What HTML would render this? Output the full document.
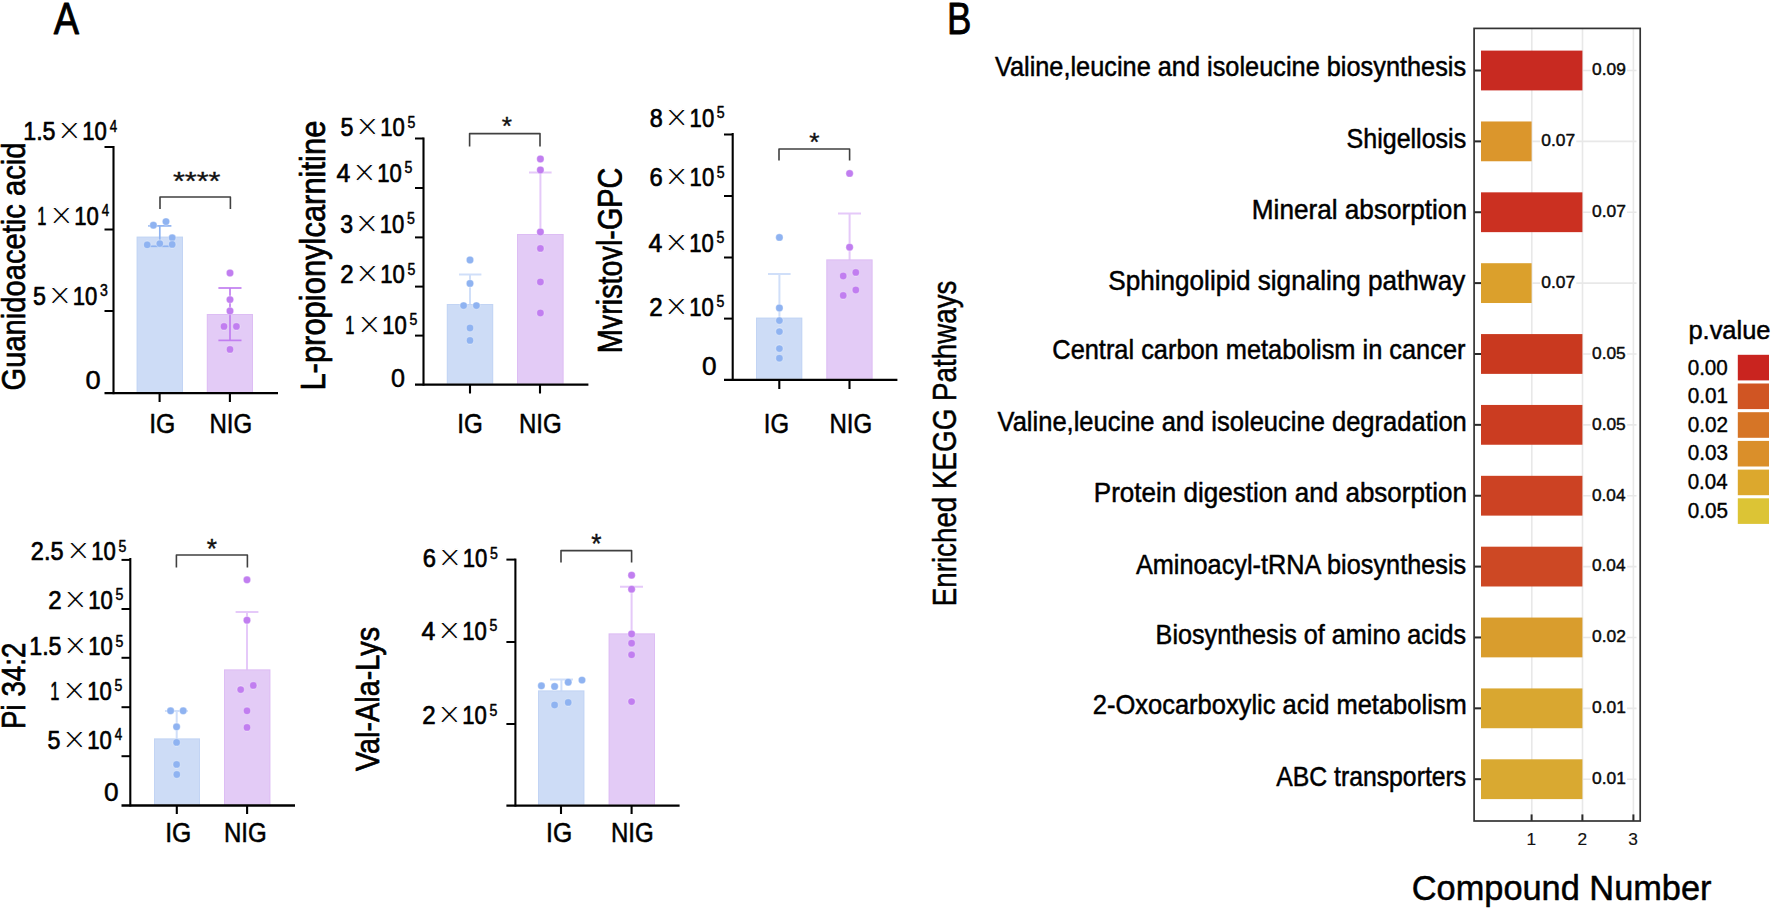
<!DOCTYPE html>
<html><head><meta charset="utf-8"><title>Figure</title>
<style>html,body{margin:0;padding:0;background:#fff}svg{display:block}</style></head>
<body>
<svg width="1772" height="910" viewBox="0 0 1772 910" font-family="'Liberation Sans', sans-serif">
<rect width="1772" height="910" fill="#fff"/>
<rect x="136.60" y="236.60" width="46.40" height="155.60" fill="#cddcf6"/>
<rect x="137.10" y="237.10" width="45.40" height="155.60" fill="none" stroke="#8fb3f1" stroke-opacity="0.18" stroke-width="1"/>
<rect x="206.80" y="314.00" width="46.20" height="78.20" fill="#e3cbf6"/>
<rect x="207.30" y="314.50" width="45.20" height="78.20" fill="none" stroke="#c17ef0" stroke-opacity="0.18" stroke-width="1"/>
<line x1="159.80" y1="225.90" x2="159.80" y2="246.30" stroke="#8fb3f1" stroke-width="1.7" stroke-linecap="butt"/>
<line x1="148.20" y1="225.90" x2="171.40" y2="225.90" stroke="#8fb3f1" stroke-width="1.7" stroke-linecap="butt"/>
<line x1="148.20" y1="246.30" x2="171.40" y2="246.30" stroke="#8fb3f1" stroke-width="1.7" stroke-linecap="butt"/>
<line x1="230.00" y1="288.00" x2="230.00" y2="340.40" stroke="#c17ef0" stroke-width="1.7" stroke-linecap="butt"/>
<line x1="218.40" y1="288.00" x2="241.50" y2="288.00" stroke="#c17ef0" stroke-width="1.7" stroke-linecap="butt"/>
<line x1="218.40" y1="340.40" x2="241.50" y2="340.40" stroke="#c17ef0" stroke-width="1.7" stroke-linecap="butt"/>
<circle cx="153.4" cy="225.2" r="3.7" fill="#8fb3f1" stroke="#fff" stroke-opacity="0.35" stroke-width="1.1"/>
<circle cx="166.0" cy="221.6" r="3.7" fill="#8fb3f1" stroke="#fff" stroke-opacity="0.35" stroke-width="1.1"/>
<circle cx="172.2" cy="237.8" r="3.7" fill="#8fb3f1" stroke="#fff" stroke-opacity="0.35" stroke-width="1.1"/>
<circle cx="147.2" cy="244.8" r="3.7" fill="#8fb3f1" stroke="#fff" stroke-opacity="0.35" stroke-width="1.1"/>
<circle cx="159.8" cy="243.6" r="3.7" fill="#8fb3f1" stroke="#fff" stroke-opacity="0.35" stroke-width="1.1"/>
<circle cx="172.2" cy="244.4" r="3.7" fill="#8fb3f1" stroke="#fff" stroke-opacity="0.35" stroke-width="1.1"/>
<circle cx="230.0" cy="273.0" r="3.7" fill="#c17ef0" stroke="#fff" stroke-opacity="0.35" stroke-width="1.1"/>
<circle cx="230.0" cy="299.6" r="3.7" fill="#c17ef0" stroke="#fff" stroke-opacity="0.35" stroke-width="1.1"/>
<circle cx="230.0" cy="311.0" r="3.7" fill="#c17ef0" stroke="#fff" stroke-opacity="0.35" stroke-width="1.1"/>
<circle cx="224.0" cy="326.4" r="3.7" fill="#c17ef0" stroke="#fff" stroke-opacity="0.35" stroke-width="1.1"/>
<circle cx="236.4" cy="326.4" r="3.7" fill="#c17ef0" stroke="#fff" stroke-opacity="0.35" stroke-width="1.1"/>
<circle cx="230.0" cy="349.4" r="3.7" fill="#c17ef0" stroke="#fff" stroke-opacity="0.35" stroke-width="1.1"/>
<line x1="113.50" y1="146.00" x2="113.50" y2="394.20" stroke="#000" stroke-width="2.1" stroke-linecap="butt"/>
<line x1="104.50" y1="393.20" x2="278.00" y2="393.20" stroke="#000" stroke-width="2.3" stroke-linecap="butt"/>
<line x1="104.50" y1="147.00" x2="113.50" y2="147.00" stroke="#000" stroke-width="2" stroke-linecap="butt"/>
<line x1="104.50" y1="229.50" x2="113.50" y2="229.50" stroke="#000" stroke-width="2" stroke-linecap="butt"/>
<line x1="104.50" y1="311.00" x2="113.50" y2="311.00" stroke="#000" stroke-width="2" stroke-linecap="butt"/>
<line x1="159.60" y1="393.20" x2="159.60" y2="402.00" stroke="#000" stroke-width="2.1" stroke-linecap="butt"/>
<line x1="229.90" y1="393.20" x2="229.90" y2="402.00" stroke="#000" stroke-width="2.1" stroke-linecap="butt"/>
<path d="M160.0,209.0 V197.0 H230.4 V209.0" fill="none" stroke="#404040" stroke-width="1.6" stroke-linejoin="round"/>
<text transform="translate(172.99,190.25) scale(1.1488,1)" font-size="26.57" fill="#111" stroke="#111" stroke-width="0.35">****</text>
<text transform="translate(82.31,140.00) scale(0.8347,1)" font-size="26.45" fill="#000" stroke="#000" stroke-width="0.7" stroke-linejoin="round" >10</text>
<text transform="translate(57.92,144.27) scale(0.9700,1)" font-size="40.00" fill="#000" stroke="#fff" stroke-width="1.13">×</text>
<text transform="translate(23.22,140.00) scale(0.8784,1)" font-size="26.45" fill="#000" stroke="#000" stroke-width="0.7" stroke-linejoin="round" >1.5</text>
<text transform="translate(109.69,131.50) scale(0.8374,1)" font-size="15.90" fill="#000" stroke="#000" stroke-width="0.5" stroke-linejoin="round" >4</text>
<text transform="translate(74.31,224.50) scale(0.8347,1)" font-size="26.45" fill="#000" stroke="#000" stroke-width="0.7" stroke-linejoin="round" >10</text>
<text transform="translate(49.92,228.77) scale(0.9700,1)" font-size="40.00" fill="#000" stroke="#fff" stroke-width="1.13">×</text>
<text transform="translate(37.19,224.50) scale(0.6200,1)" font-size="26.45" fill="#000" stroke="#000" stroke-width="0.7" stroke-linejoin="round">1</text>
<text transform="translate(101.69,216.00) scale(0.8374,1)" font-size="15.90" fill="#000" stroke="#000" stroke-width="0.5" stroke-linejoin="round" >4</text>
<text transform="translate(72.81,304.50) scale(0.8347,1)" font-size="26.45" fill="#000" stroke="#000" stroke-width="0.7" stroke-linejoin="round" >10</text>
<text transform="translate(48.42,308.76) scale(0.9700,1)" font-size="40.00" fill="#000" stroke="#fff" stroke-width="1.13">×</text>
<text transform="translate(33.07,304.50) scale(0.8788,1)" font-size="26.45" fill="#000" stroke="#000" stroke-width="0.7" stroke-linejoin="round" >5</text>
<text transform="translate(99.98,296.00) scale(0.8842,1)" font-size="15.90" fill="#000" stroke="#000" stroke-width="0.5" stroke-linejoin="round" >3</text>
<text transform="translate(85.41,388.74) scale(1.0423,1)" font-size="26.17" fill="#000" stroke="#000" stroke-width="0.5" stroke-linejoin="round" >0</text>
<text transform="translate(149.18,433.00) scale(0.9281,1)" font-size="26.73" fill="#000" stroke="#000" stroke-width="0.5" stroke-linejoin="round" >IG</text>
<text transform="translate(209.49,433.00) scale(0.9005,1)" font-size="26.73" fill="#000" stroke="#000" stroke-width="0.5" stroke-linejoin="round" >NIG</text>
<text transform="translate(25.00,390.46) rotate(-90) scale(0.8708,1)" font-size="33.48" fill="#000" stroke="#000" stroke-width="0.7" stroke-linejoin="round">Guanidoacetic acid</text>
<rect x="446.80" y="304.00" width="46.40" height="79.60" fill="#cddcf6"/>
<rect x="447.30" y="304.50" width="45.40" height="79.60" fill="none" stroke="#8fb3f1" stroke-opacity="0.18" stroke-width="1"/>
<rect x="517.00" y="234.00" width="46.60" height="149.60" fill="#e3cbf6"/>
<rect x="517.50" y="234.50" width="45.60" height="149.60" fill="none" stroke="#c17ef0" stroke-opacity="0.18" stroke-width="1"/>
<g stroke="#8fb3f1" stroke-opacity="0.42" stroke-width="2" fill="none"><path d="M470.0,274.4 V304.0 M459.0,274.4 H481.4"/></g>
<g stroke="#c17ef0" stroke-opacity="0.42" stroke-width="2" fill="none"><path d="M540.4,172.6 V234.0 M529.0,172.6 H551.6"/></g>
<circle cx="470.0" cy="260.0" r="3.7" fill="#8fb3f1" stroke="#fff" stroke-opacity="0.35" stroke-width="1.1"/>
<circle cx="470.0" cy="283.4" r="3.7" fill="#8fb3f1" stroke="#fff" stroke-opacity="0.35" stroke-width="1.1"/>
<circle cx="463.6" cy="305.6" r="3.7" fill="#8fb3f1" stroke="#fff" stroke-opacity="0.35" stroke-width="1.1"/>
<circle cx="476.4" cy="305.6" r="3.7" fill="#8fb3f1" stroke="#fff" stroke-opacity="0.35" stroke-width="1.1"/>
<circle cx="470.0" cy="328.0" r="3.7" fill="#8fb3f1" stroke="#fff" stroke-opacity="0.35" stroke-width="1.1"/>
<circle cx="470.0" cy="340.4" r="3.7" fill="#8fb3f1" stroke="#fff" stroke-opacity="0.35" stroke-width="1.1"/>
<circle cx="540.4" cy="159.0" r="3.7" fill="#c17ef0" stroke="#fff" stroke-opacity="0.35" stroke-width="1.1"/>
<circle cx="540.4" cy="170.0" r="3.7" fill="#c17ef0" stroke="#fff" stroke-opacity="0.35" stroke-width="1.1"/>
<circle cx="540.4" cy="232.0" r="3.7" fill="#c17ef0" stroke="#fff" stroke-opacity="0.35" stroke-width="1.1"/>
<circle cx="540.4" cy="248.4" r="3.7" fill="#c17ef0" stroke="#fff" stroke-opacity="0.35" stroke-width="1.1"/>
<circle cx="540.4" cy="282.0" r="3.7" fill="#c17ef0" stroke="#fff" stroke-opacity="0.35" stroke-width="1.1"/>
<circle cx="540.4" cy="313.0" r="3.7" fill="#c17ef0" stroke="#fff" stroke-opacity="0.35" stroke-width="1.1"/>
<line x1="423.50" y1="137.50" x2="423.50" y2="385.60" stroke="#000" stroke-width="2.1" stroke-linecap="butt"/>
<line x1="415.00" y1="384.60" x2="588.40" y2="384.60" stroke="#000" stroke-width="2.3" stroke-linecap="butt"/>
<line x1="415.00" y1="138.50" x2="423.50" y2="138.50" stroke="#000" stroke-width="2" stroke-linecap="butt"/>
<line x1="415.00" y1="188.00" x2="423.50" y2="188.00" stroke="#000" stroke-width="2" stroke-linecap="butt"/>
<line x1="415.00" y1="237.40" x2="423.50" y2="237.40" stroke="#000" stroke-width="2" stroke-linecap="butt"/>
<line x1="415.00" y1="286.60" x2="423.50" y2="286.60" stroke="#000" stroke-width="2" stroke-linecap="butt"/>
<line x1="415.00" y1="335.60" x2="423.50" y2="335.60" stroke="#000" stroke-width="2" stroke-linecap="butt"/>
<line x1="470.00" y1="384.60" x2="470.00" y2="393.50" stroke="#000" stroke-width="2.1" stroke-linecap="butt"/>
<line x1="540.00" y1="384.60" x2="540.00" y2="393.50" stroke="#000" stroke-width="2.1" stroke-linecap="butt"/>
<path d="M469.6,146.6 V133.6 H540.0 V146.6" fill="none" stroke="#404040" stroke-width="1.6" stroke-linejoin="round"/>
<text transform="translate(501.86,134.66) scale(1.0249,1)" font-size="25.71" fill="#111" stroke="#111" stroke-width="0.35">*</text>
<text transform="translate(380.31,136.00) scale(0.8347,1)" font-size="26.45" fill="#000" stroke="#000" stroke-width="0.7" stroke-linejoin="round" >10</text>
<text transform="translate(355.92,140.27) scale(0.9700,1)" font-size="40.00" fill="#000" stroke="#fff" stroke-width="1.13">×</text>
<text transform="translate(340.57,136.00) scale(0.8788,1)" font-size="26.45" fill="#000" stroke="#000" stroke-width="0.7" stroke-linejoin="round" >5</text>
<text transform="translate(407.43,127.50) scale(0.8905,1)" font-size="15.90" fill="#000" stroke="#000" stroke-width="0.5" stroke-linejoin="round" >5</text>
<text transform="translate(377.31,181.50) scale(0.8347,1)" font-size="26.45" fill="#000" stroke="#000" stroke-width="0.7" stroke-linejoin="round" >10</text>
<text transform="translate(352.92,185.77) scale(0.9700,1)" font-size="40.00" fill="#000" stroke="#fff" stroke-width="1.13">×</text>
<text transform="translate(336.42,181.50) scale(0.9391,1)" font-size="26.45" fill="#000" stroke="#000" stroke-width="0.7" stroke-linejoin="round" >4</text>
<text transform="translate(404.43,173.00) scale(0.8905,1)" font-size="15.90" fill="#000" stroke="#000" stroke-width="0.5" stroke-linejoin="round" >5</text>
<text transform="translate(379.81,232.50) scale(0.8347,1)" font-size="26.45" fill="#000" stroke="#000" stroke-width="0.7" stroke-linejoin="round" >10</text>
<text transform="translate(355.42,236.77) scale(0.9700,1)" font-size="40.00" fill="#000" stroke="#fff" stroke-width="1.13">×</text>
<text transform="translate(340.15,232.50) scale(0.8726,1)" font-size="26.45" fill="#000" stroke="#000" stroke-width="0.7" stroke-linejoin="round" >3</text>
<text transform="translate(406.93,224.00) scale(0.8905,1)" font-size="15.90" fill="#000" stroke="#000" stroke-width="0.5" stroke-linejoin="round" >5</text>
<text transform="translate(380.31,283.00) scale(0.8347,1)" font-size="26.45" fill="#000" stroke="#000" stroke-width="0.7" stroke-linejoin="round" >10</text>
<text transform="translate(355.92,287.26) scale(0.9700,1)" font-size="40.00" fill="#000" stroke="#fff" stroke-width="1.13">×</text>
<text transform="translate(340.30,283.00) scale(0.9109,1)" font-size="26.45" fill="#000" stroke="#000" stroke-width="0.7" stroke-linejoin="round" >2</text>
<text transform="translate(407.43,274.50) scale(0.8905,1)" font-size="15.90" fill="#000" stroke="#000" stroke-width="0.5" stroke-linejoin="round" >5</text>
<text transform="translate(382.31,333.80) scale(0.8347,1)" font-size="26.45" fill="#000" stroke="#000" stroke-width="0.7" stroke-linejoin="round" >10</text>
<text transform="translate(357.92,338.06) scale(0.9700,1)" font-size="40.00" fill="#000" stroke="#fff" stroke-width="1.13">×</text>
<text transform="translate(345.19,333.80) scale(0.6200,1)" font-size="26.45" fill="#000" stroke="#000" stroke-width="0.7" stroke-linejoin="round">1</text>
<text transform="translate(409.43,325.30) scale(0.8905,1)" font-size="15.90" fill="#000" stroke="#000" stroke-width="0.5" stroke-linejoin="round" >5</text>
<text transform="translate(390.99,387.24) scale(0.9621,1)" font-size="26.17" fill="#000" stroke="#000" stroke-width="0.5" stroke-linejoin="round" >0</text>
<text transform="translate(457.24,433.00) scale(0.9070,1)" font-size="26.73" fill="#000" stroke="#000" stroke-width="0.5" stroke-linejoin="round" >IG</text>
<text transform="translate(518.99,433.00) scale(0.9005,1)" font-size="26.73" fill="#000" stroke="#000" stroke-width="0.5" stroke-linejoin="round" >NIG</text>
<text transform="translate(325.00,390.58) rotate(-90) scale(0.9042,1)" font-size="34.21" fill="#000" stroke="#000" stroke-width="0.7" stroke-linejoin="round">L-propionylcarnitine</text>
<rect x="756.00" y="317.60" width="46.30" height="61.20" fill="#cddcf6"/>
<rect x="756.50" y="318.10" width="45.30" height="61.20" fill="none" stroke="#8fb3f1" stroke-opacity="0.18" stroke-width="1"/>
<rect x="826.30" y="259.40" width="46.30" height="119.40" fill="#e3cbf6"/>
<rect x="826.80" y="259.90" width="45.30" height="119.40" fill="none" stroke="#c17ef0" stroke-opacity="0.18" stroke-width="1"/>
<g stroke="#8fb3f1" stroke-opacity="0.42" stroke-width="2" fill="none"><path d="M779.4,274.0 V317.6 M768.0,274.0 H790.6"/></g>
<g stroke="#c17ef0" stroke-opacity="0.42" stroke-width="2" fill="none"><path d="M849.6,213.6 V259.4 M838.0,213.6 H861.0"/></g>
<circle cx="779.4" cy="237.4" r="3.7" fill="#8fb3f1" stroke="#fff" stroke-opacity="0.35" stroke-width="1.1"/>
<circle cx="779.4" cy="308.0" r="3.7" fill="#8fb3f1" stroke="#fff" stroke-opacity="0.35" stroke-width="1.1"/>
<circle cx="779.4" cy="320.6" r="3.7" fill="#8fb3f1" stroke="#fff" stroke-opacity="0.35" stroke-width="1.1"/>
<circle cx="779.4" cy="331.6" r="3.7" fill="#8fb3f1" stroke="#fff" stroke-opacity="0.35" stroke-width="1.1"/>
<circle cx="779.4" cy="348.6" r="3.7" fill="#8fb3f1" stroke="#fff" stroke-opacity="0.35" stroke-width="1.1"/>
<circle cx="779.4" cy="358.2" r="3.7" fill="#8fb3f1" stroke="#fff" stroke-opacity="0.35" stroke-width="1.1"/>
<circle cx="849.6" cy="173.4" r="3.7" fill="#c17ef0" stroke="#fff" stroke-opacity="0.35" stroke-width="1.1"/>
<circle cx="849.6" cy="247.2" r="3.7" fill="#c17ef0" stroke="#fff" stroke-opacity="0.35" stroke-width="1.1"/>
<circle cx="843.2" cy="276.0" r="3.7" fill="#c17ef0" stroke="#fff" stroke-opacity="0.35" stroke-width="1.1"/>
<circle cx="855.8" cy="272.4" r="3.7" fill="#c17ef0" stroke="#fff" stroke-opacity="0.35" stroke-width="1.1"/>
<circle cx="855.8" cy="290.0" r="3.7" fill="#c17ef0" stroke="#fff" stroke-opacity="0.35" stroke-width="1.1"/>
<circle cx="843.2" cy="295.4" r="3.7" fill="#c17ef0" stroke="#fff" stroke-opacity="0.35" stroke-width="1.1"/>
<line x1="732.70" y1="133.00" x2="732.70" y2="380.80" stroke="#000" stroke-width="2.1" stroke-linecap="butt"/>
<line x1="724.00" y1="379.80" x2="897.40" y2="379.80" stroke="#000" stroke-width="2.3" stroke-linecap="butt"/>
<line x1="724.00" y1="134.50" x2="732.70" y2="134.50" stroke="#000" stroke-width="2" stroke-linecap="butt"/>
<line x1="724.00" y1="196.00" x2="732.70" y2="196.00" stroke="#000" stroke-width="2" stroke-linecap="butt"/>
<line x1="724.00" y1="257.50" x2="732.70" y2="257.50" stroke="#000" stroke-width="2" stroke-linecap="butt"/>
<line x1="724.00" y1="318.60" x2="732.70" y2="318.60" stroke="#000" stroke-width="2" stroke-linecap="butt"/>
<line x1="779.30" y1="379.80" x2="779.30" y2="389.00" stroke="#000" stroke-width="2.1" stroke-linecap="butt"/>
<line x1="849.50" y1="379.80" x2="849.50" y2="389.00" stroke="#000" stroke-width="2.1" stroke-linecap="butt"/>
<path d="M779.0,160.6 V149.0 H849.6 V160.6" fill="none" stroke="#404040" stroke-width="1.6" stroke-linejoin="round"/>
<text transform="translate(809.26,150.86) scale(1.0482,1)" font-size="25.14" fill="#111" stroke="#111" stroke-width="0.35">*</text>
<text transform="translate(689.61,126.50) scale(0.8347,1)" font-size="26.45" fill="#000" stroke="#000" stroke-width="0.7" stroke-linejoin="round" >10</text>
<text transform="translate(665.22,130.76) scale(0.9700,1)" font-size="40.00" fill="#000" stroke="#fff" stroke-width="1.13">×</text>
<text transform="translate(649.79,126.50) scale(0.8850,1)" font-size="26.45" fill="#000" stroke="#000" stroke-width="0.7" stroke-linejoin="round" >8</text>
<text transform="translate(716.73,118.00) scale(0.8905,1)" font-size="15.90" fill="#000" stroke="#000" stroke-width="0.5" stroke-linejoin="round" >5</text>
<text transform="translate(689.61,186.00) scale(0.8347,1)" font-size="26.45" fill="#000" stroke="#000" stroke-width="0.7" stroke-linejoin="round" >10</text>
<text transform="translate(665.22,190.27) scale(0.9700,1)" font-size="40.00" fill="#000" stroke="#fff" stroke-width="1.13">×</text>
<text transform="translate(649.61,186.00) scale(0.8977,1)" font-size="26.45" fill="#000" stroke="#000" stroke-width="0.7" stroke-linejoin="round" >6</text>
<text transform="translate(716.73,177.50) scale(0.8905,1)" font-size="15.90" fill="#000" stroke="#000" stroke-width="0.5" stroke-linejoin="round" >5</text>
<text transform="translate(689.31,251.50) scale(0.8347,1)" font-size="26.45" fill="#000" stroke="#000" stroke-width="0.7" stroke-linejoin="round" >10</text>
<text transform="translate(664.92,255.77) scale(0.9700,1)" font-size="40.00" fill="#000" stroke="#fff" stroke-width="1.13">×</text>
<text transform="translate(648.42,251.50) scale(0.9391,1)" font-size="26.45" fill="#000" stroke="#000" stroke-width="0.7" stroke-linejoin="round" >4</text>
<text transform="translate(716.43,243.00) scale(0.8905,1)" font-size="15.90" fill="#000" stroke="#000" stroke-width="0.5" stroke-linejoin="round" >5</text>
<text transform="translate(689.31,315.50) scale(0.8347,1)" font-size="26.45" fill="#000" stroke="#000" stroke-width="0.7" stroke-linejoin="round" >10</text>
<text transform="translate(664.92,319.76) scale(0.9700,1)" font-size="40.00" fill="#000" stroke="#fff" stroke-width="1.13">×</text>
<text transform="translate(649.30,315.50) scale(0.9109,1)" font-size="26.45" fill="#000" stroke="#000" stroke-width="0.7" stroke-linejoin="round" >2</text>
<text transform="translate(716.43,307.00) scale(0.8905,1)" font-size="15.90" fill="#000" stroke="#000" stroke-width="0.5" stroke-linejoin="round" >5</text>
<text transform="translate(701.95,375.24) scale(1.0022,1)" font-size="26.17" fill="#000" stroke="#000" stroke-width="0.5" stroke-linejoin="round" >0</text>
<text transform="translate(763.77,433.00) scale(0.8944,1)" font-size="26.73" fill="#000" stroke="#000" stroke-width="0.5" stroke-linejoin="round" >IG</text>
<text transform="translate(829.49,433.00) scale(0.9005,1)" font-size="26.73" fill="#000" stroke="#000" stroke-width="0.5" stroke-linejoin="round" >NIG</text>
<clipPath id="cl621"><rect x="0" y="0" width="622.4" height="910"/></clipPath><g clip-path="url(#cl621)">
<text transform="translate(621.60,353.20) rotate(-90) scale(0.8414,1)" font-size="34.21" fill="#000" stroke="#000" stroke-width="0.7" stroke-linejoin="round">Myristoyl-GPC</text>
</g>
<rect x="154.00" y="738.40" width="46.00" height="66.10" fill="#cddcf6"/>
<rect x="154.50" y="738.90" width="45.00" height="66.10" fill="none" stroke="#8fb3f1" stroke-opacity="0.18" stroke-width="1"/>
<rect x="224.00" y="669.40" width="46.40" height="135.10" fill="#e3cbf6"/>
<rect x="224.50" y="669.90" width="45.40" height="135.10" fill="none" stroke="#c17ef0" stroke-opacity="0.18" stroke-width="1"/>
<g stroke="#8fb3f1" stroke-opacity="0.42" stroke-width="2" fill="none"><path d="M176.7,711.0 V738.4 M165.0,711.0 H188.0"/></g>
<g stroke="#c17ef0" stroke-opacity="0.42" stroke-width="2" fill="none"><path d="M247.0,612.0 V669.4 M235.6,612.0 H258.4"/></g>
<circle cx="170.6" cy="710.8" r="3.7" fill="#8fb3f1" stroke="#fff" stroke-opacity="0.35" stroke-width="1.1"/>
<circle cx="183.2" cy="710.8" r="3.7" fill="#8fb3f1" stroke="#fff" stroke-opacity="0.35" stroke-width="1.1"/>
<circle cx="176.6" cy="726.8" r="3.7" fill="#8fb3f1" stroke="#fff" stroke-opacity="0.35" stroke-width="1.1"/>
<circle cx="176.6" cy="742.4" r="3.7" fill="#8fb3f1" stroke="#fff" stroke-opacity="0.35" stroke-width="1.1"/>
<circle cx="176.6" cy="764.4" r="3.7" fill="#8fb3f1" stroke="#fff" stroke-opacity="0.35" stroke-width="1.1"/>
<circle cx="176.8" cy="774.5" r="3.7" fill="#8fb3f1" stroke="#fff" stroke-opacity="0.35" stroke-width="1.1"/>
<circle cx="247.0" cy="579.8" r="3.7" fill="#c17ef0" stroke="#fff" stroke-opacity="0.35" stroke-width="1.1"/>
<circle cx="247.0" cy="620.2" r="3.7" fill="#c17ef0" stroke="#fff" stroke-opacity="0.35" stroke-width="1.1"/>
<circle cx="253.3" cy="685.4" r="3.7" fill="#c17ef0" stroke="#fff" stroke-opacity="0.35" stroke-width="1.1"/>
<circle cx="240.7" cy="689.6" r="3.7" fill="#c17ef0" stroke="#fff" stroke-opacity="0.35" stroke-width="1.1"/>
<circle cx="247.0" cy="710.8" r="3.7" fill="#c17ef0" stroke="#fff" stroke-opacity="0.35" stroke-width="1.1"/>
<circle cx="247.0" cy="727.4" r="3.7" fill="#c17ef0" stroke="#fff" stroke-opacity="0.35" stroke-width="1.1"/>
<line x1="130.30" y1="558.00" x2="130.30" y2="806.50" stroke="#000" stroke-width="2.1" stroke-linecap="butt"/>
<line x1="121.50" y1="805.50" x2="295.00" y2="805.50" stroke="#000" stroke-width="2.3" stroke-linecap="butt"/>
<line x1="121.50" y1="559.90" x2="130.30" y2="559.90" stroke="#000" stroke-width="2" stroke-linecap="butt"/>
<line x1="121.50" y1="609.00" x2="130.30" y2="609.00" stroke="#000" stroke-width="2" stroke-linecap="butt"/>
<line x1="121.50" y1="657.80" x2="130.30" y2="657.80" stroke="#000" stroke-width="2" stroke-linecap="butt"/>
<line x1="121.50" y1="707.20" x2="130.30" y2="707.20" stroke="#000" stroke-width="2" stroke-linecap="butt"/>
<line x1="121.50" y1="756.20" x2="130.30" y2="756.20" stroke="#000" stroke-width="2" stroke-linecap="butt"/>
<line x1="176.80" y1="805.50" x2="176.80" y2="814.00" stroke="#000" stroke-width="2.1" stroke-linecap="butt"/>
<line x1="247.10" y1="805.50" x2="247.10" y2="814.00" stroke="#000" stroke-width="2.1" stroke-linecap="butt"/>
<path d="M176.4,567.4 V555.0 H247.4 V567.4" fill="none" stroke="#404040" stroke-width="1.6" stroke-linejoin="round"/>
<text transform="translate(206.86,558.44) scale(0.9813,1)" font-size="26.86" fill="#111" stroke="#111" stroke-width="0.35">*</text>
<text transform="translate(91.31,560.00) scale(0.8347,1)" font-size="26.45" fill="#000" stroke="#000" stroke-width="0.7" stroke-linejoin="round" >10</text>
<text transform="translate(66.92,564.26) scale(0.9700,1)" font-size="40.00" fill="#000" stroke="#fff" stroke-width="1.13">×</text>
<text transform="translate(30.82,560.00) scale(0.8895,1)" font-size="26.45" fill="#000" stroke="#000" stroke-width="0.7" stroke-linejoin="round" >2.5</text>
<text transform="translate(118.43,551.50) scale(0.8905,1)" font-size="15.90" fill="#000" stroke="#000" stroke-width="0.5" stroke-linejoin="round" >5</text>
<text transform="translate(88.31,608.50) scale(0.8347,1)" font-size="26.45" fill="#000" stroke="#000" stroke-width="0.7" stroke-linejoin="round" >10</text>
<text transform="translate(63.92,612.76) scale(0.9700,1)" font-size="40.00" fill="#000" stroke="#fff" stroke-width="1.13">×</text>
<text transform="translate(48.30,608.50) scale(0.9109,1)" font-size="26.45" fill="#000" stroke="#000" stroke-width="0.7" stroke-linejoin="round" >2</text>
<text transform="translate(115.43,600.00) scale(0.8905,1)" font-size="15.90" fill="#000" stroke="#000" stroke-width="0.5" stroke-linejoin="round" >5</text>
<text transform="translate(88.31,655.00) scale(0.8347,1)" font-size="26.45" fill="#000" stroke="#000" stroke-width="0.7" stroke-linejoin="round" >10</text>
<text transform="translate(63.92,659.26) scale(0.9700,1)" font-size="40.00" fill="#000" stroke="#fff" stroke-width="1.13">×</text>
<text transform="translate(29.22,655.00) scale(0.8784,1)" font-size="26.45" fill="#000" stroke="#000" stroke-width="0.7" stroke-linejoin="round" >1.5</text>
<text transform="translate(115.43,646.50) scale(0.8905,1)" font-size="15.90" fill="#000" stroke="#000" stroke-width="0.5" stroke-linejoin="round" >5</text>
<text transform="translate(87.31,699.50) scale(0.8347,1)" font-size="26.45" fill="#000" stroke="#000" stroke-width="0.7" stroke-linejoin="round" >10</text>
<text transform="translate(62.92,703.76) scale(0.9700,1)" font-size="40.00" fill="#000" stroke="#fff" stroke-width="1.13">×</text>
<text transform="translate(50.19,699.50) scale(0.6200,1)" font-size="26.45" fill="#000" stroke="#000" stroke-width="0.7" stroke-linejoin="round">1</text>
<text transform="translate(114.43,691.00) scale(0.8905,1)" font-size="15.90" fill="#000" stroke="#000" stroke-width="0.5" stroke-linejoin="round" >5</text>
<text transform="translate(87.31,748.50) scale(0.8347,1)" font-size="26.45" fill="#000" stroke="#000" stroke-width="0.7" stroke-linejoin="round" >10</text>
<text transform="translate(62.92,752.76) scale(0.9700,1)" font-size="40.00" fill="#000" stroke="#fff" stroke-width="1.13">×</text>
<text transform="translate(47.57,748.50) scale(0.8788,1)" font-size="26.45" fill="#000" stroke="#000" stroke-width="0.7" stroke-linejoin="round" >5</text>
<text transform="translate(114.69,740.00) scale(0.8374,1)" font-size="15.90" fill="#000" stroke="#000" stroke-width="0.5" stroke-linejoin="round" >4</text>
<text transform="translate(103.95,800.74) scale(1.0022,1)" font-size="26.17" fill="#000" stroke="#000" stroke-width="0.5" stroke-linejoin="round" >0</text>
<text transform="translate(165.18,842.00) scale(0.9281,1)" font-size="26.73" fill="#000" stroke="#000" stroke-width="0.5" stroke-linejoin="round" >IG</text>
<text transform="translate(223.99,842.00) scale(0.9005,1)" font-size="26.73" fill="#000" stroke="#000" stroke-width="0.5" stroke-linejoin="round" >NIG</text>
<text transform="translate(25.00,728.91) rotate(-90) scale(0.8279,1)" font-size="33.48" fill="#000" stroke="#000" stroke-width="0.7" stroke-linejoin="round">Pi 34:2</text>
<rect x="538.00" y="690.40" width="46.40" height="114.20" fill="#cddcf6"/>
<rect x="538.50" y="690.90" width="45.40" height="114.20" fill="none" stroke="#8fb3f1" stroke-opacity="0.18" stroke-width="1"/>
<rect x="608.60" y="633.40" width="46.40" height="171.20" fill="#e3cbf6"/>
<rect x="609.10" y="633.90" width="45.40" height="171.20" fill="none" stroke="#c17ef0" stroke-opacity="0.18" stroke-width="1"/>
<g stroke="#8fb3f1" stroke-opacity="0.42" stroke-width="2" fill="none"><path d="M561.4,679.5 V690.4 M550.0,679.5 H573.0"/></g>
<g stroke="#c17ef0" stroke-opacity="0.42" stroke-width="2" fill="none"><path d="M631.6,586.8 V633.4 M620.0,586.8 H643.0"/></g>
<circle cx="541.4" cy="685.8" r="3.7" fill="#8fb3f1" stroke="#fff" stroke-opacity="0.35" stroke-width="1.1"/>
<circle cx="554.6" cy="686.4" r="3.7" fill="#8fb3f1" stroke="#fff" stroke-opacity="0.35" stroke-width="1.1"/>
<circle cx="568.2" cy="682.2" r="3.7" fill="#8fb3f1" stroke="#fff" stroke-opacity="0.35" stroke-width="1.1"/>
<circle cx="582.0" cy="680.1" r="3.7" fill="#8fb3f1" stroke="#fff" stroke-opacity="0.35" stroke-width="1.1"/>
<circle cx="554.6" cy="705.0" r="3.7" fill="#8fb3f1" stroke="#fff" stroke-opacity="0.35" stroke-width="1.1"/>
<circle cx="568.2" cy="702.4" r="3.7" fill="#8fb3f1" stroke="#fff" stroke-opacity="0.35" stroke-width="1.1"/>
<circle cx="631.6" cy="575.2" r="3.7" fill="#c17ef0" stroke="#fff" stroke-opacity="0.35" stroke-width="1.1"/>
<circle cx="631.6" cy="589.2" r="3.7" fill="#c17ef0" stroke="#fff" stroke-opacity="0.35" stroke-width="1.1"/>
<circle cx="631.6" cy="634.0" r="3.7" fill="#c17ef0" stroke="#fff" stroke-opacity="0.35" stroke-width="1.1"/>
<circle cx="631.6" cy="643.2" r="3.7" fill="#c17ef0" stroke="#fff" stroke-opacity="0.35" stroke-width="1.1"/>
<circle cx="631.6" cy="654.8" r="3.7" fill="#c17ef0" stroke="#fff" stroke-opacity="0.35" stroke-width="1.1"/>
<circle cx="631.6" cy="701.6" r="3.7" fill="#c17ef0" stroke="#fff" stroke-opacity="0.35" stroke-width="1.1"/>
<line x1="515.40" y1="558.60" x2="515.40" y2="806.60" stroke="#000" stroke-width="2.1" stroke-linecap="butt"/>
<line x1="506.40" y1="805.60" x2="679.60" y2="805.60" stroke="#000" stroke-width="2.3" stroke-linecap="butt"/>
<line x1="506.40" y1="559.60" x2="515.40" y2="559.60" stroke="#000" stroke-width="2" stroke-linecap="butt"/>
<line x1="506.40" y1="642.00" x2="515.40" y2="642.00" stroke="#000" stroke-width="2" stroke-linecap="butt"/>
<line x1="506.40" y1="724.00" x2="515.40" y2="724.00" stroke="#000" stroke-width="2" stroke-linecap="butt"/>
<line x1="561.00" y1="805.60" x2="561.00" y2="814.00" stroke="#000" stroke-width="2.1" stroke-linecap="butt"/>
<line x1="631.60" y1="805.60" x2="631.60" y2="814.00" stroke="#000" stroke-width="2.1" stroke-linecap="butt"/>
<path d="M561.0,562.4 V550.6 H631.6 V562.4" fill="none" stroke="#404040" stroke-width="1.6" stroke-linejoin="round"/>
<text transform="translate(591.26,553.44) scale(0.9813,1)" font-size="26.86" fill="#111" stroke="#111" stroke-width="0.35">*</text>
<text transform="translate(462.81,567.00) scale(0.8347,1)" font-size="26.45" fill="#000" stroke="#000" stroke-width="0.7" stroke-linejoin="round" >10</text>
<text transform="translate(438.42,571.26) scale(0.9700,1)" font-size="40.00" fill="#000" stroke="#fff" stroke-width="1.13">×</text>
<text transform="translate(422.81,567.00) scale(0.8977,1)" font-size="26.45" fill="#000" stroke="#000" stroke-width="0.7" stroke-linejoin="round" >6</text>
<text transform="translate(489.93,558.50) scale(0.8905,1)" font-size="15.90" fill="#000" stroke="#000" stroke-width="0.5" stroke-linejoin="round" >5</text>
<text transform="translate(462.31,639.50) scale(0.8347,1)" font-size="26.45" fill="#000" stroke="#000" stroke-width="0.7" stroke-linejoin="round" >10</text>
<text transform="translate(437.92,643.76) scale(0.9700,1)" font-size="40.00" fill="#000" stroke="#fff" stroke-width="1.13">×</text>
<text transform="translate(421.42,639.50) scale(0.9391,1)" font-size="26.45" fill="#000" stroke="#000" stroke-width="0.7" stroke-linejoin="round" >4</text>
<text transform="translate(489.43,631.00) scale(0.8905,1)" font-size="15.90" fill="#000" stroke="#000" stroke-width="0.5" stroke-linejoin="round" >5</text>
<text transform="translate(462.31,724.00) scale(0.8347,1)" font-size="26.45" fill="#000" stroke="#000" stroke-width="0.7" stroke-linejoin="round" >10</text>
<text transform="translate(437.92,728.26) scale(0.9700,1)" font-size="40.00" fill="#000" stroke="#fff" stroke-width="1.13">×</text>
<text transform="translate(422.30,724.00) scale(0.9109,1)" font-size="26.45" fill="#000" stroke="#000" stroke-width="0.7" stroke-linejoin="round" >2</text>
<text transform="translate(489.43,715.50) scale(0.8905,1)" font-size="15.90" fill="#000" stroke="#000" stroke-width="0.5" stroke-linejoin="round" >5</text>
<text transform="translate(546.08,842.00) scale(0.9281,1)" font-size="26.73" fill="#000" stroke="#000" stroke-width="0.5" stroke-linejoin="round" >IG</text>
<text transform="translate(610.99,842.00) scale(0.9005,1)" font-size="26.73" fill="#000" stroke="#000" stroke-width="0.5" stroke-linejoin="round" >NIG</text>
<text transform="translate(379.00,771.10) rotate(-90) scale(0.8612,1)" font-size="33.48" fill="#000" stroke="#000" stroke-width="0.7" stroke-linejoin="round">Val-Ala-Lys</text>
<text transform="translate(53.87,34.40) scale(0.8449,1)" font-size="44.83" fill="#000" stroke="#000" stroke-width="0.9" stroke-linejoin="round" >A</text>
<text transform="translate(946.95,34.40) scale(0.8165,1)" font-size="44.83" fill="#000" stroke="#000" stroke-width="0.9" stroke-linejoin="round" >B</text>
<line x1="1531.80" y1="28.40" x2="1531.80" y2="821.00" stroke="#e8e8e8" stroke-width="1.6" stroke-linecap="butt"/>
<line x1="1582.50" y1="28.40" x2="1582.50" y2="821.00" stroke="#e8e8e8" stroke-width="1.6" stroke-linecap="butt"/>
<line x1="1633.40" y1="28.40" x2="1633.40" y2="821.00" stroke="#e8e8e8" stroke-width="1.6" stroke-linecap="butt"/>
<line x1="1474.10" y1="70.50" x2="1636.50" y2="70.50" stroke="#e8e8e8" stroke-width="1.6" stroke-linecap="butt"/>
<line x1="1474.10" y1="141.37" x2="1636.50" y2="141.37" stroke="#e8e8e8" stroke-width="1.6" stroke-linecap="butt"/>
<line x1="1474.10" y1="212.24" x2="1636.50" y2="212.24" stroke="#e8e8e8" stroke-width="1.6" stroke-linecap="butt"/>
<line x1="1474.10" y1="283.11" x2="1636.50" y2="283.11" stroke="#e8e8e8" stroke-width="1.6" stroke-linecap="butt"/>
<line x1="1474.10" y1="353.98" x2="1636.50" y2="353.98" stroke="#e8e8e8" stroke-width="1.6" stroke-linecap="butt"/>
<line x1="1474.10" y1="424.85" x2="1636.50" y2="424.85" stroke="#e8e8e8" stroke-width="1.6" stroke-linecap="butt"/>
<line x1="1474.10" y1="495.72" x2="1636.50" y2="495.72" stroke="#e8e8e8" stroke-width="1.6" stroke-linecap="butt"/>
<line x1="1474.10" y1="566.59" x2="1636.50" y2="566.59" stroke="#e8e8e8" stroke-width="1.6" stroke-linecap="butt"/>
<line x1="1474.10" y1="637.46" x2="1636.50" y2="637.46" stroke="#e8e8e8" stroke-width="1.6" stroke-linecap="butt"/>
<line x1="1474.10" y1="708.33" x2="1636.50" y2="708.33" stroke="#e8e8e8" stroke-width="1.6" stroke-linecap="butt"/>
<line x1="1474.10" y1="779.20" x2="1636.50" y2="779.20" stroke="#e8e8e8" stroke-width="1.6" stroke-linecap="butt"/>
<rect x="1481.00" y="50.60" width="101.40" height="39.80" fill="#c82a21"/>
<line x1="1474.10" y1="70.50" x2="1481.00" y2="70.50" stroke="#2b2b2b" stroke-width="2" stroke-linecap="butt"/>
<rect x="1590.70" y="63.00" width="36.30" height="15.00" fill="#fff"/>
<text transform="translate(1592.01,75.40) scale(1.0337,1)" font-size="16.80" fill="#0a0a0a" stroke="#0a0a0a" stroke-width="0.45" stroke-linejoin="round" >0.09</text>
<text transform="translate(994.92,76.00) scale(0.9179,1)" font-size="27.60" fill="#000" stroke="#000" stroke-width="0.5" stroke-linejoin="round" >Valine,leucine and isoleucine biosynthesis</text>
<rect x="1481.00" y="121.47" width="50.60" height="39.80" fill="#db962c"/>
<line x1="1474.10" y1="141.37" x2="1481.00" y2="141.37" stroke="#2b2b2b" stroke-width="2" stroke-linecap="butt"/>
<rect x="1540.00" y="133.87" width="36.30" height="15.00" fill="#fff"/>
<text transform="translate(1541.30,146.27) scale(1.0355,1)" font-size="16.80" fill="#0a0a0a" stroke="#0a0a0a" stroke-width="0.45" stroke-linejoin="round" >0.07</text>
<text transform="translate(1346.53,148.00) scale(0.9072,1)" font-size="27.60" fill="#000" stroke="#000" stroke-width="0.5" stroke-linejoin="round" >Shigellosis</text>
<rect x="1481.00" y="192.34" width="101.40" height="39.80" fill="#cb3021"/>
<line x1="1474.10" y1="212.24" x2="1481.00" y2="212.24" stroke="#2b2b2b" stroke-width="2" stroke-linecap="butt"/>
<rect x="1590.70" y="204.74" width="36.30" height="15.00" fill="#fff"/>
<text transform="translate(1592.00,217.14) scale(1.0355,1)" font-size="16.80" fill="#0a0a0a" stroke="#0a0a0a" stroke-width="0.45" stroke-linejoin="round" >0.07</text>
<text transform="translate(1251.82,218.60) scale(0.9479,1)" font-size="27.60" fill="#000" stroke="#000" stroke-width="0.5" stroke-linejoin="round" >Mineral absorption</text>
<rect x="1481.00" y="263.21" width="50.60" height="39.80" fill="#dba02c"/>
<line x1="1474.10" y1="283.11" x2="1481.00" y2="283.11" stroke="#2b2b2b" stroke-width="2" stroke-linecap="butt"/>
<rect x="1540.00" y="275.61" width="36.30" height="15.00" fill="#fff"/>
<text transform="translate(1541.30,288.01) scale(1.0355,1)" font-size="16.80" fill="#0a0a0a" stroke="#0a0a0a" stroke-width="0.45" stroke-linejoin="round" >0.07</text>
<text transform="translate(1108.28,290.30) scale(0.9460,1)" font-size="27.60" fill="#000" stroke="#000" stroke-width="0.5" stroke-linejoin="round" >Sphingolipid signaling pathway</text>
<rect x="1481.00" y="334.08" width="101.40" height="39.80" fill="#c9391f"/>
<line x1="1474.10" y1="353.98" x2="1481.00" y2="353.98" stroke="#2b2b2b" stroke-width="2" stroke-linecap="butt"/>
<rect x="1590.70" y="346.48" width="36.30" height="15.00" fill="#fff"/>
<text transform="translate(1592.01,358.88) scale(1.0318,1)" font-size="16.80" fill="#0a0a0a" stroke="#0a0a0a" stroke-width="0.45" stroke-linejoin="round" >0.05</text>
<text transform="translate(1052.33,359.30) scale(0.9196,1)" font-size="27.60" fill="#000" stroke="#000" stroke-width="0.5" stroke-linejoin="round" >Central carbon metabolism in cancer</text>
<rect x="1481.00" y="404.95" width="101.40" height="39.80" fill="#cb3c21"/>
<line x1="1474.10" y1="424.85" x2="1481.00" y2="424.85" stroke="#2b2b2b" stroke-width="2" stroke-linecap="butt"/>
<rect x="1590.70" y="417.35" width="36.30" height="15.00" fill="#fff"/>
<text transform="translate(1592.01,429.75) scale(1.0318,1)" font-size="16.80" fill="#0a0a0a" stroke="#0a0a0a" stroke-width="0.45" stroke-linejoin="round" >0.05</text>
<text transform="translate(997.51,430.50) scale(0.9253,1)" font-size="27.60" fill="#000" stroke="#000" stroke-width="0.5" stroke-linejoin="round" >Valine,leucine and isoleucine degradation</text>
<rect x="1481.00" y="475.82" width="101.40" height="39.80" fill="#cc4223"/>
<line x1="1474.10" y1="495.72" x2="1481.00" y2="495.72" stroke="#2b2b2b" stroke-width="2" stroke-linecap="butt"/>
<rect x="1590.70" y="488.22" width="36.30" height="15.00" fill="#fff"/>
<text transform="translate(1592.01,500.62) scale(1.0245,1)" font-size="16.80" fill="#0a0a0a" stroke="#0a0a0a" stroke-width="0.45" stroke-linejoin="round" >0.04</text>
<text transform="translate(1093.83,502.40) scale(0.9427,1)" font-size="27.60" fill="#000" stroke="#000" stroke-width="0.5" stroke-linejoin="round" >Protein digestion and absorption</text>
<rect x="1481.00" y="546.69" width="101.40" height="39.80" fill="#cd4824"/>
<line x1="1474.10" y1="566.59" x2="1481.00" y2="566.59" stroke="#2b2b2b" stroke-width="2" stroke-linecap="butt"/>
<rect x="1590.70" y="559.09" width="36.30" height="15.00" fill="#fff"/>
<text transform="translate(1592.01,571.49) scale(1.0245,1)" font-size="16.80" fill="#0a0a0a" stroke="#0a0a0a" stroke-width="0.45" stroke-linejoin="round" >0.04</text>
<text transform="translate(1135.92,573.90) scale(0.9164,1)" font-size="27.60" fill="#000" stroke="#000" stroke-width="0.5" stroke-linejoin="round" >Aminoacyl-tRNA biosynthesis</text>
<rect x="1481.00" y="617.56" width="101.40" height="39.80" fill="#d99d2d"/>
<line x1="1474.10" y1="637.46" x2="1481.00" y2="637.46" stroke="#2b2b2b" stroke-width="2" stroke-linecap="butt"/>
<rect x="1590.70" y="629.96" width="36.30" height="15.00" fill="#fff"/>
<text transform="translate(1592.00,642.36) scale(1.0355,1)" font-size="16.80" fill="#0a0a0a" stroke="#0a0a0a" stroke-width="0.45" stroke-linejoin="round" >0.02</text>
<text transform="translate(1155.60,644.00) scale(0.9120,1)" font-size="27.60" fill="#000" stroke="#000" stroke-width="0.5" stroke-linejoin="round" >Biosynthesis of amino acids</text>
<rect x="1481.00" y="688.43" width="101.40" height="39.80" fill="#d9a730"/>
<line x1="1474.10" y1="708.33" x2="1481.00" y2="708.33" stroke="#2b2b2b" stroke-width="2" stroke-linecap="butt"/>
<rect x="1590.70" y="700.83" width="36.30" height="15.00" fill="#fff"/>
<text transform="translate(1592.00,713.23) scale(1.0355,1)" font-size="16.80" fill="#0a0a0a" stroke="#0a0a0a" stroke-width="0.45" stroke-linejoin="round" >0.01</text>
<text transform="translate(1092.72,713.90) scale(0.9242,1)" font-size="27.60" fill="#000" stroke="#000" stroke-width="0.5" stroke-linejoin="round" >2-Oxocarboxylic acid metabolism</text>
<rect x="1481.00" y="759.30" width="101.40" height="39.80" fill="#d9a931"/>
<line x1="1474.10" y1="779.20" x2="1481.00" y2="779.20" stroke="#2b2b2b" stroke-width="2" stroke-linecap="butt"/>
<rect x="1590.70" y="771.70" width="36.30" height="15.00" fill="#fff"/>
<text transform="translate(1592.00,784.10) scale(1.0355,1)" font-size="16.80" fill="#0a0a0a" stroke="#0a0a0a" stroke-width="0.45" stroke-linejoin="round" >0.01</text>
<text transform="translate(1276.22,785.50) scale(0.8975,1)" font-size="27.60" fill="#000" stroke="#000" stroke-width="0.5" stroke-linejoin="round" >ABC transporters</text>
<line x1="1531.60" y1="814.40" x2="1531.60" y2="821.00" stroke="#2b2b2b" stroke-width="2" stroke-linecap="butt"/>
<line x1="1582.40" y1="814.40" x2="1582.40" y2="821.00" stroke="#2b2b2b" stroke-width="2" stroke-linecap="butt"/>
<line x1="1633.40" y1="814.40" x2="1633.40" y2="821.00" stroke="#2b2b2b" stroke-width="2" stroke-linecap="butt"/>
<rect x="1474.1" y="28.4" width="166.1" height="792.6" fill="none" stroke="#333" stroke-width="1.7"/>
<text x="1531.4" y="845" font-size="17.3" text-anchor="middle" fill="#111" stroke="#111" stroke-width="0.2">1</text>
<text x="1582.4" y="845" font-size="17.3" text-anchor="middle" fill="#111" stroke="#111" stroke-width="0.2">2</text>
<text x="1633" y="845" font-size="17.3" text-anchor="middle" fill="#111" stroke="#111" stroke-width="0.2">3</text>
<text transform="translate(1411.78,900.00) scale(0.9594,1)" font-size="35.81" fill="#000" stroke="#000" stroke-width="0.5" stroke-linejoin="round" >Compound Number</text>
<text transform="translate(955.70,606.32) rotate(-90) scale(0.8446,1)" font-size="32.90" fill="#000" stroke="#000" stroke-width="0.5" stroke-linejoin="round">Enriched KEGG Pathways</text>
<text transform="translate(1688.39,338.50) scale(0.9652,1)" font-size="26.40" fill="#000" stroke="#000" stroke-width="0.5" stroke-linejoin="round" >p.value</text>
<rect x="1737.80" y="354.80" width="31.20" height="25.60" fill="#c9241f"/>
<text transform="translate(1687.67,374.50) scale(0.9381,1)" font-size="21.99" fill="#000" stroke="#000" stroke-width="0.4" stroke-linejoin="round" >0.00</text>
<rect x="1737.80" y="383.50" width="31.20" height="25.60" fill="#d05523"/>
<text transform="translate(1687.67,403.15) scale(0.9432,1)" font-size="21.99" fill="#000" stroke="#000" stroke-width="0.4" stroke-linejoin="round" >0.01</text>
<rect x="1737.80" y="412.20" width="31.20" height="25.60" fill="#d67526"/>
<text transform="translate(1687.67,431.80) scale(0.9432,1)" font-size="21.99" fill="#000" stroke="#000" stroke-width="0.4" stroke-linejoin="round" >0.02</text>
<rect x="1737.80" y="440.90" width="31.20" height="25.60" fill="#da8f2a"/>
<text transform="translate(1687.67,460.45) scale(0.9398,1)" font-size="21.99" fill="#000" stroke="#000" stroke-width="0.4" stroke-linejoin="round" >0.03</text>
<rect x="1737.80" y="469.60" width="31.20" height="25.60" fill="#dca82d"/>
<text transform="translate(1687.68,489.10) scale(0.9331,1)" font-size="21.99" fill="#000" stroke="#000" stroke-width="0.4" stroke-linejoin="round" >0.04</text>
<rect x="1737.80" y="498.30" width="31.20" height="25.60" fill="#dcc435"/>
<text transform="translate(1687.67,517.75) scale(0.9398,1)" font-size="21.99" fill="#000" stroke="#000" stroke-width="0.4" stroke-linejoin="round" >0.05</text>
</svg>
</body></html>
